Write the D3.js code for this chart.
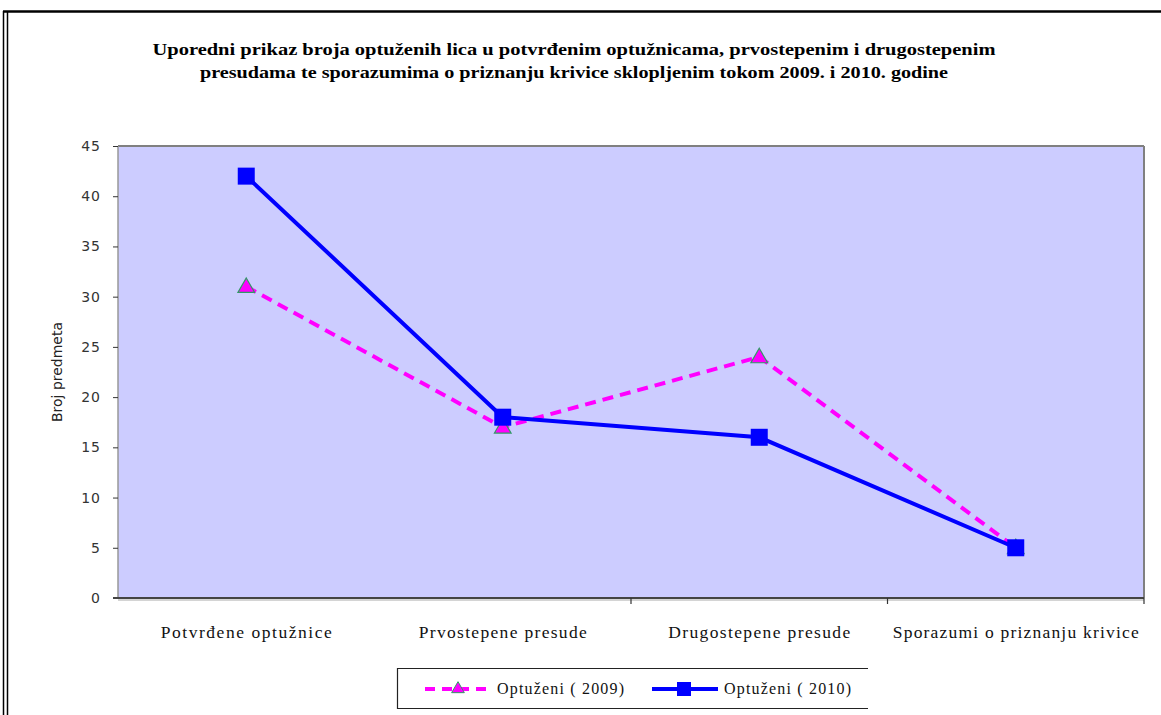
<!DOCTYPE html>
<html><head><meta charset="utf-8">
<script src="https://cdn.jsdelivr.net/npm/d3@7"></script>
<style>html,body{margin:0;padding:0;background:#fff;}svg{display:block;}</style>
</head><body>
<script>
const categories = ["Potvrđene optužnice", "Prvostepene presude", "Drugostepene presude", "Sporazumi o priznanju krivice"];
const values2009 = [31, 17, 24, 5];
const values2010 = [42, 18, 16, 5];
const seriesNames = ["Optuženi ( 2009)", "Optuženi ( 2010)"];
const yTicks = [0, 5, 10, 15, 20, 25, 30, 35, 40, 45];
const titleLines = ["Uporedni prikaz broja optuženih lica u potvrđenim optužnicama, prvostepenim i drugostepenim",
                    "presudama te sporazumima o priznanju krivice sklopljenim tokom 2009. i 2010. godine"];
const yLabel = "Broj predmeta";

const W = 1161, H = 715;
const svg = d3.select("body").append("svg").attr("width", W).attr("height", H);

// outer frame
svg.append("line").attr("x1", 3).attr("x2", W).attr("y1", 11.5).attr("y2", 11.5).attr("stroke", "#000").attr("stroke-width", 2.5);
svg.append("line").attr("x1", 3.5).attr("x2", 3.5).attr("y1", 11).attr("y2", H).attr("stroke", "#000").attr("stroke-width", 1.5);
svg.append("line").attr("x1", 7.5).attr("x2", 7.5).attr("y1", 11).attr("y2", H).attr("stroke", "#000").attr("stroke-width", 1.5);

// title
const titleW = [843, 748];
const titleY = [55, 78];
titleLines.forEach((t, i) => {
  svg.append("text").attr("x", 574).attr("y", titleY[i]).attr("text-anchor", "middle")
    .attr("font-family", "Liberation Serif, serif").attr("font-weight", "bold").attr("font-size", 16.5)
    .attr("textLength", titleW[i]).attr("lengthAdjust", "spacingAndGlyphs")
    .attr("fill", "#000").text(t);
});

const pL = 118, pR = 1144, pT = 146, pB = 598;
const x = d3.scaleBand().domain(categories).range([pL, pR]);
const y = d3.scaleLinear().domain([0, 45]).range([pB, pT]);

// plot area
svg.append("rect").attr("x", pL).attr("y", pT).attr("width", pR - pL).attr("height", pB - pT)
  .attr("fill", "#CCCCFF").attr("stroke", "none");
svg.append("line").attr("x1", pL).attr("x2", pR).attr("y1", pT).attr("y2", pT).attr("stroke", "#808080").attr("stroke-width", 2);
svg.append("line").attr("x1", pR).attr("x2", pR).attr("y1", pT).attr("y2", pB).attr("stroke", "#808080").attr("stroke-width", 2);
svg.append("line").attr("x1", pL).attr("x2", pL).attr("y1", pT).attr("y2", pB).attr("stroke", "#999").attr("stroke-width", 1.5);

// y axis
const yAxis = d3.axisLeft(y).tickValues(yTicks).tickSize(5).tickPadding(12);
const gy = svg.append("g").attr("transform", `translate(${pL},0)`).call(yAxis);
gy.select(".domain").remove();
gy.selectAll(".tick line").attr("stroke", "#333");
gy.selectAll(".tick text").attr("font-family", "DejaVu Sans, sans-serif").attr("font-size", 14)
  .attr("letter-spacing", "1px").attr("fill", "#333");

// x axis
svg.append("line").attr("x1", pL - 5).attr("x2", pR).attr("y1", pB).attr("y2", pB).attr("stroke", "#444").attr("stroke-width", 2);
svg.append("line").attr("x1", pL).attr("x2", pR).attr("y1", pB + 2).attr("y2", pB + 2).attr("stroke", "#aaa").attr("stroke-width", 1);
const boundaries = categories.map(c => x(c) + x.bandwidth()).slice(1);
svg.selectAll(".xtick").data(boundaries).enter().append("line")
  .attr("x1", d => d).attr("x2", d => d).attr("y1", pB).attr("y2", pB + 6)
  .attr("stroke", "#333").attr("stroke-width", 1.2);

const catW = [171, 168, 182, 246];
svg.selectAll(".xlab").data(categories).enter().append("text")
  .attr("x", d => x(d) + x.bandwidth() / 2).attr("y", 638).attr("text-anchor", "middle")
  .attr("font-family", "Liberation Serif, serif").attr("font-size", 17.5).attr("fill", "#111")
  .attr("textLength", (d, i) => catW[i]).attr("lengthAdjust", "spacing")
  .text(d => d);

// y label
svg.append("text").attr("transform", `translate(62,${372}) rotate(-90)`).attr("text-anchor", "middle")
  .attr("font-family", "DejaVu Sans, sans-serif").attr("font-size", 14).attr("fill", "#222").text(yLabel);

const cx = (d, i) => x(categories[i]) + x.bandwidth() / 2;
const line = d3.line().x((d, i) => cx(d, i)).y(d => y(d));

// 2009
svg.append("path").datum(values2009).attr("d", line).attr("fill", "none")
  .attr("stroke", "#FF00FF").attr("stroke-width", 4).attr("stroke-dasharray", "11,7");
const tri = d3.symbol().type(d3.symbolTriangle).size(120);
svg.selectAll(".tri").data(values2009).enter().append("path")
  .attr("d", tri).attr("transform", (d, i) => `translate(${cx(d, i)},${y(d) + 1})`)
  .attr("fill", "#FF00FF").attr("stroke", "#339966").attr("stroke-width", 1.2);

// 2010
svg.append("path").datum(values2010).attr("d", line).attr("fill", "none")
  .attr("stroke", "#0000FF").attr("stroke-width", 4);
svg.selectAll(".sq").data(values2010).enter().append("rect")
  .attr("x", (d, i) => cx(d, i) - 8.5).attr("y", d => y(d) - 8.5).attr("width", 17).attr("height", 17)
  .attr("fill", "#0000FF");

// legend
const lg = svg.append("g");
lg.append("path").attr("d", "M868,668.5 H397.5 V708.5 H868").attr("fill", "none").attr("stroke", "#222").attr("stroke-width", 1.2);
const ly = 689;
lg.append("line").attr("x1", 425).attr("x2", 490).attr("y1", ly).attr("y2", ly)
  .attr("stroke", "#FF00FF").attr("stroke-width", 4).attr("stroke-dasharray", "10,7");
lg.append("path").attr("d", d3.symbol().type(d3.symbolTriangle).size(70))
  .attr("transform", `translate(458,${ly})`).attr("fill", "#FF00FF").attr("stroke", "#339966").attr("stroke-width", 1);
lg.append("text").attr("x", 497).attr("y", ly + 5).attr("font-family", "Liberation Serif, serif").attr("font-size", 16)
  .attr("textLength", 127).attr("lengthAdjust", "spacing").attr("fill", "#111").text(seriesNames[0]);
lg.append("line").attr("x1", 652).attr("x2", 718).attr("y1", ly).attr("y2", ly)
  .attr("stroke", "#0000FF").attr("stroke-width", 4);
lg.append("rect").attr("x", 677).attr("y", ly - 7).attr("width", 14).attr("height", 14).attr("fill", "#0000FF");
lg.append("text").attr("x", 724).attr("y", ly + 5).attr("font-family", "Liberation Serif, serif").attr("font-size", 16)
  .attr("textLength", 127).attr("lengthAdjust", "spacing").attr("fill", "#111").text(seriesNames[1]);
</script>
</body></html>
